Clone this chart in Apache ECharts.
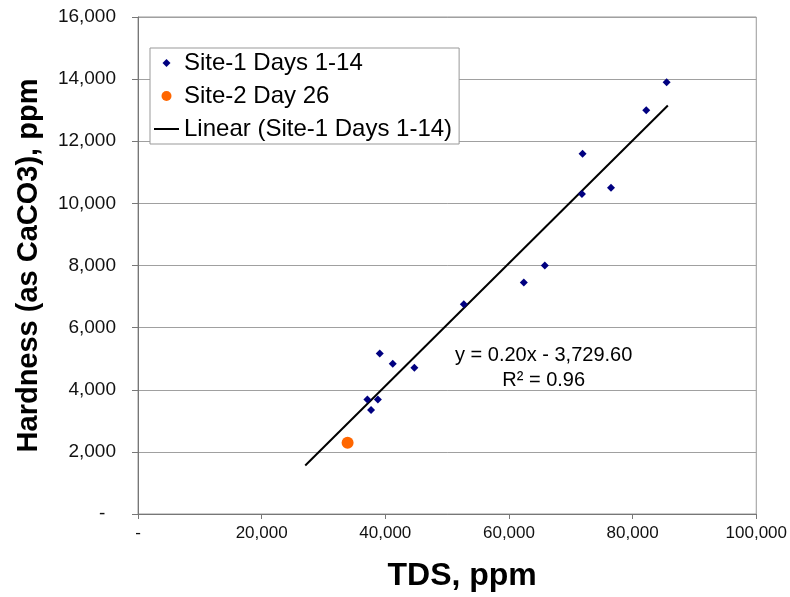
<!DOCTYPE html>
<html>
<head>
<meta charset="utf-8">
<script src="https://cdn.jsdelivr.net/npm/echarts@6/dist/echarts.min.js"></script>
<style>
  html, body { margin: 0; padding: 0; background: #fff; }
  #chart { width: 790px; height: 597px; }
</style>
</head>
<body>
<div id="chart"></div>
<script>
// Site-1 Days 1-14 (TDS ppm, hardness ppm)
const site1Tds = [85500, 82200, 71900, 76500, 71800, 65800, 62400, 52700, 39100, 41200, 44700, 37100, 38800, 37700];
const site1Hardness = [13900, 13000, 11600, 10500, 10300, 8000, 7450, 6750, 5170, 4840, 4710, 3690, 3690, 3350];

// Site-2 Day 26
const site2Tds = [33900];
const site2Hardness = [2290];

// linear trend line ends
const trendTds = [27050, 85700];
const trendHardness = [1560, 13150];

const trendEquation = ['y = 0.20x - 3,729.60', 'R\u00b2 = 0.96'];

const FONT = '"Liberation Sans", Arial, sans-serif';

const fmt = (v) => v === 0 ? '-' : v.toLocaleString('en-US');

const chart = echarts.init(document.getElementById('chart'), null, { renderer: 'canvas' });

chart.setOption({
  animation: false,
  backgroundColor: '#fff',
  textStyle: { fontFamily: FONT },
  grid: {
    left: 138, right: 31, top: 17, bottom: 83,
    show: true, borderColor: '#999', borderWidth: 1,
  },
  legend: {
    orient: 'vertical',
    left: 150,
    top: 48,
    backgroundColor: '#fff',
    borderColor: '#999',
    borderWidth: 1,
    padding: [3, 7, 3, 4],
    itemGap: 9,
    itemWidth: 25,
    itemHeight: 14,
    textStyle: { fontFamily: FONT, fontSize: 24, lineHeight: 24, color: '#000' },
    data: [
      { name: 'Site-1 Days 1-14', icon: 'path://M0,0M25,14M12.5,3L16.5,7L12.5,11L8.5,7Z' },
      { name: 'Site-2 Day 26', icon: 'path://M0,0M25,14M7.5,7A5,5,0,1,1,17.5,7A5,5,0,1,1,7.5,7Z' },
      { name: 'Linear (Site-1 Days 1-14)', icon: 'path://M0,0M25,14M0,6L25,6L25,8L0,8Z', itemStyle: { color: '#000' } },
    ],
  },
  xAxis: {
    type: 'value',
    min: 0, max: 100000, interval: 20000,
    name: 'TDS, ppm',
    nameLocation: 'middle',
    nameGap: 46,
    nameTextStyle: { fontFamily: FONT, fontSize: 32, fontWeight: 'bold', color: '#000', padding: [0, 0, 0, 30] },
    axisLine: { show: true, lineStyle: { color: '#777', width: 1 } },
    axisTick: { show: true, inside: false, length: 5, lineStyle: { color: '#777' } },
    axisLabel: { fontFamily: FONT, fontSize: 17, color: '#111', margin: 11, formatter: fmt },
    splitLine: { show: false },
  },
  yAxis: {
    type: 'value',
    min: 0, max: 16000, interval: 2000,
    name: 'Hardness (as CaCO3), ppm',
    nameLocation: 'middle',
    nameGap: 95,
    nameTextStyle: { fontFamily: FONT, fontSize: 29, fontWeight: 'bold', color: '#000' },
    axisLine: { show: true, lineStyle: { color: '#777', width: 1 } },
    axisTick: { show: true, inside: false, length: 6, lineStyle: { color: '#777' } },
    axisLabel: {
      fontFamily: FONT, fontSize: 19, color: '#111', margin: 22,
      formatter: (v) => v === 0 ? '-  ' : v.toLocaleString('en-US'),
    },
    splitLine: { show: true, lineStyle: { color: '#a0a0a0', width: 1 } },
  },
  graphic: [{
    type: 'text',
    left: 455,
    top: 343,
    style: {
      text: trendEquation.join('\n'),
      fontFamily: FONT,
      fontSize: 20,
      lineHeight: 25,
      fill: '#000',
      align: 'center',
      textAlign: 'center',
    },
  }],
  series: [
    {
      name: 'Linear (Site-1 Days 1-14)',
      type: 'line',
      symbol: 'none',
      z: 2,
      itemStyle: { color: '#000' },
      lineStyle: { color: '#000', width: 2 },
      data: trendTds.map((x, i) => [x, trendHardness[i]]),
    },
    {
      name: 'Site-1 Days 1-14',
      type: 'scatter',
      symbol: 'diamond',
      symbolSize: 8,
      z: 3,
      itemStyle: { color: '#000080', opacity: 1 },
      data: site1Tds.map((x, i) => [x, site1Hardness[i]]),
    },
    {
      name: 'Site-2 Day 26',
      type: 'scatter',
      symbol: 'circle',
      symbolSize: 12,
      z: 3,
      itemStyle: { color: '#ff6600', opacity: 1 },
      data: site2Tds.map((x, i) => [x, site2Hardness[i]]),
    },
  ],
});
</script>
</body>
</html>
